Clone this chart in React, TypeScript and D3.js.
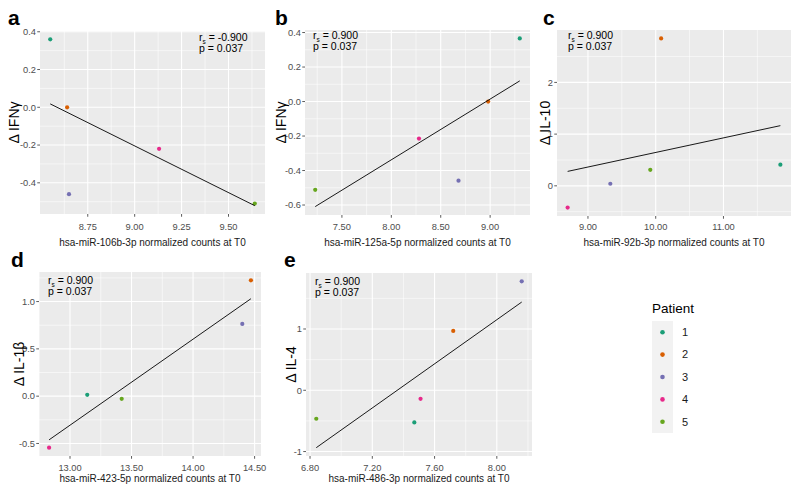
import React from 'react';
import * as d3 from 'd3';

// ---------- data ----------
const patients = ['1', '2', '3', '4', '5'];
const patientColors = ['#1B9E77', '#D95F02', '#7570B3', '#E7298A', '#66A61E'];

// panel a
const aX = [8.55, 8.64, 8.65, 9.13, 9.64];
const aY = [0.36, 0.0, -0.46, -0.22, -0.51];
const aXTicks = [8.75, 9.0, 9.25, 9.5];
const aYTicks = [-0.4, -0.2, 0.0, 0.2, 0.4];
// panel b
const bX = [9.3, 8.98, 8.68, 8.28, 7.23];
const bY = [0.366, 0.0, -0.459, -0.215, -0.512];
const bXTicks = [7.5, 8.0, 8.5, 9.0];
const bYTicks = [-0.6, -0.4, -0.2, 0.0, 0.2, 0.4];
// panel c
const cX = [11.84, 10.08, 9.33, 8.7, 9.92];
const cY = [0.41, 2.85, 0.04, -0.42, 0.31];
const cXTicks = [9.0, 10.0, 11.0];
const cYTicks = [0, 1, 2];
// panel d
const dX = [13.14, 14.47, 14.4, 12.83, 13.42];
const dY = [0.014, 1.224, 0.764, -0.544, -0.028];
const dXTicks = [13.0, 13.5, 14.0, 14.5];
const dYTicks = [-0.5, 0.0, 0.5, 1.0];
// panel e
const eX = [7.47, 7.72, 8.16, 7.51, 6.84];
const eY = [-0.524, 0.968, 1.778, -0.14, -0.465];
const eXTicks = [6.8, 7.2, 7.6, 8.0];
const eYTicks = [-1, 0, 1];

const panelLetters = ['a', 'b', 'c', 'd', 'e'];
const yTitles = ['Δ IFNγ', 'Δ IFNγ', 'Δ IL-10', 'Δ IL-1β', 'Δ IL-4'];
const xTitles = [
  'hsa-miR-106b-3p normalized counts at T0',
  'hsa-miR-125a-5p normalized counts at T0',
  'hsa-miR-92b-3p normalized counts at T0',
  'hsa-miR-423-5p normalized counts at T0',
  'hsa-miR-486-3p normalized counts at T0',
];
const rsValues = ['-0.900', '0.900', '0.900', '0.900', '0.900'];
const pValues = ['0.037', '0.037', '0.037', '0.037', '0.037'];

// ---------- layout ----------
const loc = d3.formatLocale({ decimal: '.', thousands: ',', grouping: [3], currency: ['$', ''], minus: '-' });
const f2 = loc.format('.2f');
const f1 = loc.format('.1f');
const f0 = loc.format('d');

const FONT = '"Liberation Sans", Arial, Helvetica, sans-serif';

type Box = { left: number; right: number; top: number; bottom: number };

const panels = [
  { xs: aX, ys: aY, xt: aXTicks, yt: aYTicks, yf: f1, box: { left: 40, right: 265, top: 31, bottom: 214 }, letter: [8, 25], ytx: 14, ann: [199, 41], tickY: 230, titleY: 246 },
  { xs: bX, ys: bY, xt: bXTicks, yt: bYTicks, yf: f1, box: { left: 305, right: 530, top: 30, bottom: 215 }, letter: [275, 25], ytx: 281, ann: [313, 39], tickY: 230, titleY: 246 },
  { xs: cX, ys: cY, xt: cXTicks, yt: cYTicks, yf: f0, box: { left: 557, right: 791, top: 30, bottom: 216 }, letter: [543, 25], ytx: 545, ann: [568, 39], tickY: 230, titleY: 246 },
  { xs: dX, ys: dY, xt: dXTicks, yt: dYTicks, yf: f1, box: { left: 39, right: 261, top: 272, bottom: 456 }, letter: [11, 267], ytx: 19, ann: [48, 284], tickY: 471, titleY: 482 },
  { xs: eX, ys: eY, xt: eXTicks, yt: eYTicks, yf: f0, box: { left: 306, right: 532, top: 273, bottom: 456 }, letter: [284, 267], ytx: 291, ann: [315, 285], tickY: 471, titleY: 482 },
];

function regression(xs: number[], ys: number[]) {
  const mx = d3.mean(xs)!;
  const my = d3.mean(ys)!;
  let sxy = 0, sxx = 0;
  xs.forEach((x, i) => { sxy += (x - mx) * (ys[i] - my); sxx += (x - mx) * (x - mx); });
  const slope = sxy / sxx;
  return (x: number) => my + slope * (x - mx);
}

function expand([lo, hi]: number[]) {
  const r = hi - lo;
  return [lo - r * 0.05, hi + r * 0.05];
}

function minors(ticks: number[], dom: number[]) {
  const step = ticks[1] - ticks[0];
  const out: number[] = [];
  for (let v = ticks[0] - step * 0.5 - step * 5; v <= dom[1]; v += step) {
    if (v >= dom[0]) out.push(v);
  }
  return out;
}

function Panel({ p, i }: { p: any; i: number }) {
  const box: Box = p.box;
  const fit = regression(p.xs, p.ys);
  const xExt = d3.extent(p.xs as number[]) as [number, number];
  const lineY = [fit(xExt[0]), fit(xExt[1])];
  const xDom = expand(xExt);
  const yDom = expand(d3.extent([...p.ys, ...lineY]) as [number, number]);
  const x = d3.scaleLinear().domain(xDom).range([box.left, box.right]);
  const y = d3.scaleLinear().domain(yDom).range([box.bottom, box.top]);
  const xMin = minors(p.xt, xDom);
  const yMin = minors(p.yt, yDom);
  const line = d3.line<number>().x((d) => x(d)).y((d) => y(fit(d)));
  const cy = (box.top + box.bottom) / 2;
  const cx = (box.left + box.right) / 2;
  return (
    <g>
      <rect x={box.left} y={box.top} width={box.right - box.left} height={box.bottom - box.top} fill="#EBEBEB" />
      {xMin.map((v, k) => (
        <line key={'xm' + k} x1={x(v)} x2={x(v)} y1={box.top} y2={box.bottom} stroke="#fff" strokeWidth={0.55} />
      ))}
      {yMin.map((v, k) => (
        <line key={'ym' + k} y1={y(v)} y2={y(v)} x1={box.left} x2={box.right} stroke="#fff" strokeWidth={0.55} />
      ))}
      {p.xt.map((v: number, k: number) => (
        <line key={'xg' + k} x1={x(v)} x2={x(v)} y1={box.top} y2={box.bottom} stroke="#fff" strokeWidth={1.1} />
      ))}
      {p.yt.map((v: number, k: number) => (
        <line key={'yg' + k} y1={y(v)} y2={y(v)} x1={box.left} x2={box.right} stroke="#fff" strokeWidth={1.1} />
      ))}
      {p.xs.map((v: number, k: number) => (
        <circle key={'pt' + k} cx={x(v)} cy={y(p.ys[k])} r={2.1} fill={patientColors[k]} />
      ))}
      <path d={line(xExt) || ''} stroke="#000" strokeWidth={0.9} fill="none" />
      {p.xt.map((v: number, k: number) => (
        <g key={'xt' + k}>
          <line x1={x(v)} x2={x(v)} y1={box.bottom} y2={box.bottom + 2.75} stroke="#333" strokeWidth={0.8} />
          <text x={x(v)} y={p.tickY} textAnchor="middle" fontSize={9.3} fill="#4D4D4D">{f2(v)}</text>
        </g>
      ))}
      {p.yt.map((v: number, k: number) => (
        <g key={'yt' + k}>
          <line x1={box.left - 2.75} x2={box.left} y1={y(v)} y2={y(v)} stroke="#333" strokeWidth={0.8} />
          <text x={box.left - 4} y={y(v)} dy="0.35em" textAnchor="end" fontSize={9.3} fill="#4D4D4D">{p.yf(v)}</text>
        </g>
      ))}
      <text x={cx} y={p.titleY} textAnchor="middle" fontSize={10} fill="#1a1a1a">{xTitles[i]}</text>
      <text transform={`translate(${p.ytx},${cy}) rotate(-90)`} dy="0.35em" textAnchor="middle" fontSize={14} fill="#000">{yTitles[i]}</text>
      <text x={p.letter[0]} y={p.letter[1]} fontSize={21} fontWeight="bold" fill="#000">{panelLetters[i]}</text>
      <text x={p.ann[0]} y={p.ann[1]} fontSize={10.5} fill="#000">
        r<tspan fontSize={6.5} dy={2.5}>s</tspan><tspan dy={-2.5}>{' = ' + rsValues[i]}</tspan>
      </text>
      <text x={p.ann[0]} y={p.ann[1] + 11} fontSize={10.5} fill="#000">{'p = ' + pValues[i]}</text>
    </g>
  );
}

function Legend() {
  const ly = d3.scaleBand<string>().domain(patients).range([321, 433]);
  return (
    <g>
      <text x={652} y={313} fontSize={13.5} fill="#000">Patient</text>
      <rect x={652} y={321} width={21} height={112} fill="#F2F2F2" />
      {patients.map((pt, k) => (
        <g key={pt}>
          <circle cx={662.5} cy={ly(pt)! + ly.bandwidth() / 2} r={2.3} fill={patientColors[k]} />
          <text x={682} y={ly(pt)! + ly.bandwidth() / 2} dy="0.35em" fontSize={11} fill="#1a1a1a">{pt}</text>
        </g>
      ))}
    </g>
  );
}

export default function App() {
  return (
    <svg width={800} height={491} style={{ position: 'absolute', left: 0, top: 0, fontFamily: FONT, background: '#fff' }}>
      <rect width={800} height={491} fill="#fff" />
      {panels.map((p, i) => (
        <Panel key={i} p={p} i={i} />
      ))}
      <Legend />
    </svg>
  );
}
